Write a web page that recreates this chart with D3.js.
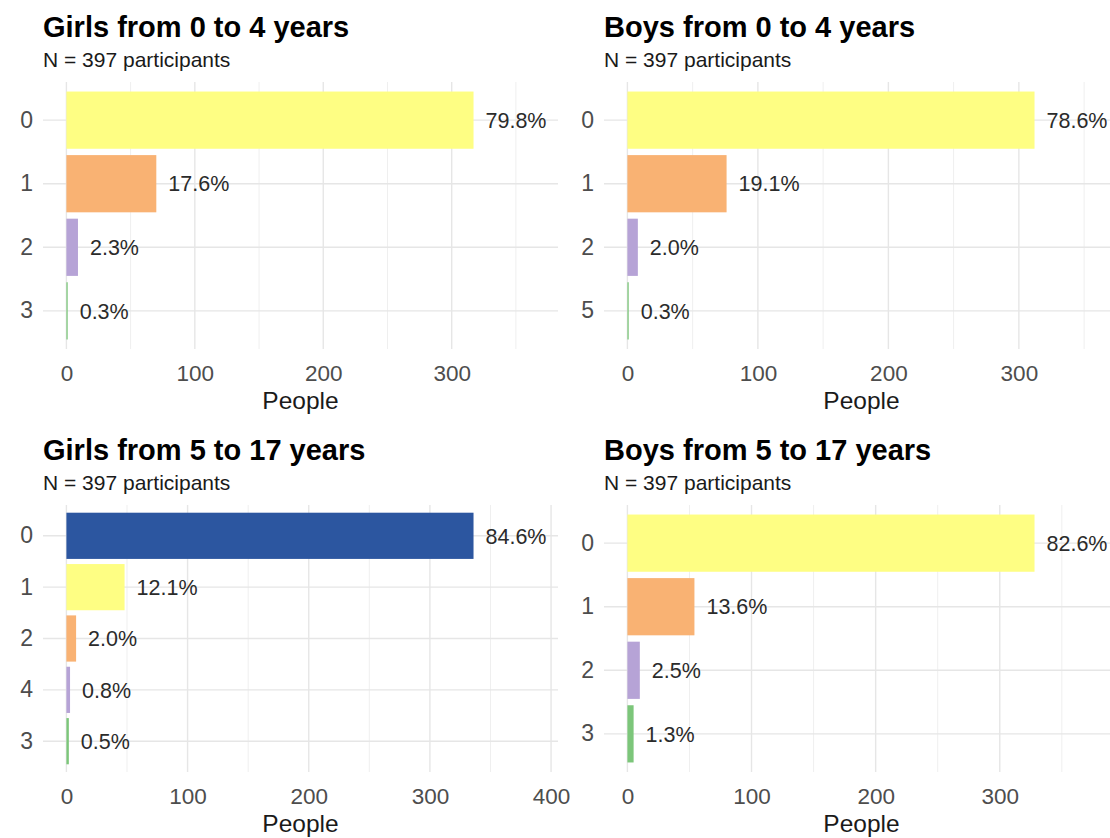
<!DOCTYPE html>
<html>
<head>
<meta charset="utf-8">
<script src="https://cdn.jsdelivr.net/npm/d3@7"></script>
<style>
  html, body { margin: 0; padding: 0; background: #ffffff; }
  svg { display: block; font-family: "Liberation Sans", Arial, Helvetica, sans-serif; }
</style>
</head>
<body>
<svg id="chart" width="1110" height="838"></svg>
<script>
// ---- data ----
const totalParticipants = 397;
const panelTitles = ["Girls from 0 to 4 years", "Boys from 0 to 4 years", "Girls from 5 to 17 years", "Boys from 5 to 17 years"];
const subtitleText = "N = 397 participants";
const axisTitle = "People";

const girls04Categories = ["0", "1", "2", "3"];
const girls04Counts = [317, 70, 9, 1];

const boys04Categories = ["0", "1", "2", "5"];
const boys04Counts = [312, 76, 8, 1];

const girls517Categories = ["0", "1", "2", "4", "3"];
const girls517Counts = [336, 48, 8, 3, 2];

const boys517Categories = ["0", "1", "2", "3"];
const boys517Counts = [328, 54, 10, 5];

const xTickValues = [0, 100, 200, 300, 400];
const xMinorValues = [50, 150, 250, 350, 450];

// palette assigned from smallest count to largest
const palette = ["#7CC67A", "#B6A3D6", "#F9B273", "#FEFE83", "#2C56A0"];

// ---- layout ----
const svg = d3.select("#chart");
const panelW = 515, panelH = 267;
const layout = [
  { x0: 43, y0: 82 },
  { x0: 604, y0: 82 },
  { x0: 43, y0: 505 },
  { x0: 604, y0: 505 }
];
const panelsData = [
  { cats: girls04Categories, counts: girls04Counts },
  { cats: boys04Categories, counts: boys04Counts },
  { cats: girls517Categories, counts: girls517Counts },
  { cats: boys517Categories, counts: boys517Counts }
];
const pctFmt = d3.format(".1%");

panelsData.forEach((p, i) => {
  const { x0, y0 } = layout[i];
  const maxV = d3.max(p.counts);
  const lim = maxV * 1.15;
  const x = d3.scaleLinear()
    .domain([-0.05 * lim, lim * 1.05])
    .range([x0, x0 + panelW]);
  const y = d3.scaleBand()
    .domain(p.cats)
    .range([y0, y0 + panelH])
    .paddingInner(0.1)
    .paddingOuter(0.15);

  const g = svg.append("g");
  const [d0, d1] = x.domain();

  // minor gridlines
  g.selectAll(".minor").data(xMinorValues.filter(v => v >= d0 && v <= d1)).join("line")
    .attr("x1", d => x(d)).attr("x2", d => x(d))
    .attr("y1", y0).attr("y2", y0 + panelH)
    .attr("stroke", "#EFEFEF").attr("stroke-width", 1);
  // major vertical gridlines
  g.selectAll(".majorx").data(xTickValues.filter(v => v >= d0 && v <= d1)).join("line")
    .attr("x1", d => x(d)).attr("x2", d => x(d))
    .attr("y1", y0).attr("y2", y0 + panelH)
    .attr("stroke", "#E6E6E6").attr("stroke-width", 1.4);
  // horizontal gridlines
  g.selectAll(".majory").data(p.cats).join("line")
    .attr("x1", x0).attr("x2", x0 + panelW)
    .attr("y1", d => y(d) + y.bandwidth() / 2).attr("y2", d => y(d) + y.bandwidth() / 2)
    .attr("stroke", "#E6E6E6").attr("stroke-width", 1.4);

  // colour by rank (smallest first)
  const sortedAsc = p.counts.map((c, k) => ({ c, k })).sort((a, b) => a.c - b.c);
  const colorOf = {};
  sortedAsc.forEach((o, r) => { colorOf[o.k] = palette[r]; });

  const rows = p.cats.map((c, k) => ({ cat: c, n: p.counts[k], k }));

  g.selectAll(".bar").data(rows).join("rect")
    .attr("x", x(0))
    .attr("y", d => y(d.cat))
    .attr("width", d => x(d.n) - x(0))
    .attr("height", y.bandwidth())
    .attr("fill", d => colorOf[d.k]);

  g.selectAll(".lbl").data(rows).join("text")
    .attr("x", d => x(d.n) + 12)
    .attr("y", d => y(d.cat) + y.bandwidth() / 2)
    .attr("dy", "0.36em")
    .attr("font-size", 21.5)
    .attr("fill", "#2b2b2b")
    .text(d => pctFmt(d.n / totalParticipants));

  // x axis
  const xAxis = d3.axisBottom(x)
    .tickValues(xTickValues.filter(v => v >= d0 && v <= d1))
    .tickSize(0).tickPadding(0).tickFormat(d3.format("d"));
  const xa = g.append("g").attr("transform", `translate(0,${y0 + panelH})`).call(xAxis);
  xa.select(".domain").remove();
  xa.selectAll("text").attr("font-size", 22.5).attr("fill", "#4D4D4D")
    .attr("font-family", "Liberation Sans, Arial, sans-serif")
    .attr("y", 32).attr("dy", "0");

  // y axis
  const yAxis = d3.axisLeft(y).tickSize(0).tickPadding(10);
  const ya = g.append("g").attr("transform", `translate(${x0},0)`).call(yAxis);
  ya.select(".domain").remove();
  ya.selectAll("text").attr("font-size", 23).attr("fill", "#4D4D4D")
    .attr("font-family", "Liberation Sans, Arial, sans-serif");

  // axis title
  g.append("text")
    .attr("x", x0 + panelW / 2)
    .attr("y", y0 + panelH + 60)
    .attr("text-anchor", "middle")
    .attr("font-size", 24.5)
    .attr("fill", "#1a1a1a")
    .text(axisTitle);

  // title & subtitle
  g.append("text")
    .attr("x", x0).attr("y", y0 - 45)
    .attr("font-size", 29).attr("font-weight", "bold")
    .attr("fill", "#000")
    .text(panelTitles[i]);
  g.append("text")
    .attr("x", x0).attr("y", y0 - 15.5)
    .attr("font-size", 21)
    .attr("fill", "#1a1a1a")
    .text(subtitleText);
});
</script>
</body>
</html>
